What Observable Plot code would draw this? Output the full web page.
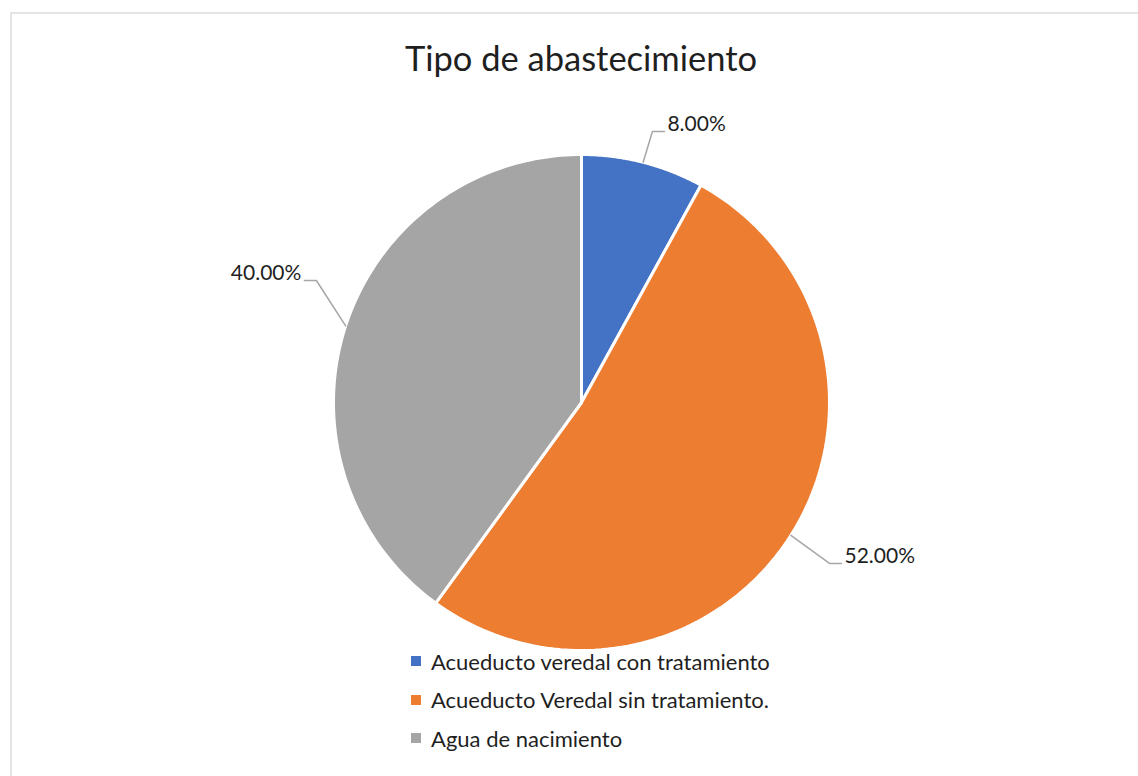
<!DOCTYPE html>
<html>
<head>
<meta charset="utf-8">
<script src="https://cdn.jsdelivr.net/npm/d3@7"></script>
<script src="https://cdn.jsdelivr.net/npm/@observablehq/plot@0.6"></script>
<style>
  html, body { margin: 0; padding: 0; background: #fff; }
  #wrap { position: relative; width: 1138px; height: 776px; overflow: hidden; background: #fff; font-family: Lato, "Noto Sans", sans-serif; }
  #frame { position: absolute; left: 10px; top: 12px; width: 1200px; height: 900px; border-left: 2px solid #e4e4e4; border-top: 2px solid #e4e4e4; box-sizing: border-box; }
  #title { position: absolute; left: 0; width: 1162px; top: 37px; text-align: center; font-size: 34.5px; color: #1f1f1f; line-height: 42px; }
  #chart { position: absolute; left: 0; top: 100px; }
  #legend { position: absolute; left: 411px; top: 642px; font-size: 22px; color: #1f1f1f; }
  .item { display: flex; align-items: center; height: 38.5px; }
  .sw { width: 10px; height: 10px; margin-right: 10px; flex: none; }
</style>
</head>
<body>
<div id="wrap">
  <div id="frame"></div>
  <div id="title"></div>
  <div id="chart"></div>
  <div id="legend"></div>
</div>
<script>
// ---- data ----
const title = "Tipo de abastecimiento";
const categories = ["Acueducto veredal con tratamiento", "Acueducto Veredal sin tratamiento.", "Agua de nacimiento"];
const values = [8, 52, 40];
const labels = ["8.00%", "52.00%", "40.00%"];
const colors = ["#4472C4", "#ED7D31", "#A5A5A5"];

// ---- layout (label elbows in radius units, y up) ----
const elbows = [[0.286, 1.093], [1.0, -0.649], [-1.069, 0.492]];
const tailSide = [1, 1, -1];

const cx = 581, cy = 402 - 100, R = 248;
const W = 1138, H = 560;

const arcs = d3.pie().sort(null).value(d => d)(values);

const slicePts = [];
arcs.forEach((a, i) => {
  slicePts.push({cat: categories[i], x: 0, y: 0});
  const n = 120;
  for (let k = 0; k <= n; k++) {
    const t = a.startAngle + (a.endAngle - a.startAngle) * k / n;
    slicePts.push({cat: categories[i], x: Math.sin(t), y: Math.cos(t)});
  }
  slicePts.push({cat: categories[i], x: 0, y: 0});
});

const tail = 12 / R;
const leaderPts = [];
const labelPts = [];
arcs.forEach((a, i) => {
  const m = (a.startAngle + a.endAngle) / 2;
  const [ex, ey] = elbows[i];
  leaderPts.push({k: i, x: Math.sin(m), y: Math.cos(m)});
  leaderPts.push({k: i, x: ex, y: ey});
  leaderPts.push({k: i, x: ex + tailSide[i] * tail, y: ey});
  labelPts.push({x: ex + tailSide[i] * (tail + 3 / R), y: ey, text: labels[i], anchor: tailSide[i] > 0 ? "start" : "end"});
});

const plot = Plot.plot({
  width: W, height: H,
  margin: 0,
  x: {domain: [-1, 1], range: [cx - R, cx + R], axis: null},
  y: {domain: [-1, 1], range: [cy + R, cy - R], axis: null},
  color: {domain: categories, range: colors},
  style: {background: "transparent", overflow: "visible"},
  marks: [
    Plot.line(slicePts, {x: "x", y: "y", z: "cat", fill: "cat", stroke: "#fff", strokeWidth: 3, strokeLinejoin: "round", curve: "linear"}),
    Plot.line(leaderPts, {x: "x", y: "y", z: "k", stroke: "#a6a6a6", strokeWidth: 1.5, curve: "linear"}),
    Plot.text(labelPts.filter(d => d.anchor === "start"), {x: "x", y: "y", text: "text", textAnchor: "start", dy: -7, fontSize: 21, fill: "#1f1f1f", fontFamily: "Lato"}),
    Plot.text(labelPts.filter(d => d.anchor === "end"), {x: "x", y: "y", text: "text", textAnchor: "end", dy: -7, fontSize: 21, fill: "#1f1f1f", fontFamily: "Lato"})
  ]
});
document.getElementById("chart").appendChild(plot);
document.getElementById("title").textContent = title;

const leg = document.getElementById("legend");
categories.forEach((c, i) => {
  const it = document.createElement("div");
  it.className = "item";
  const sw = document.createElement("span");
  sw.className = "sw";
  sw.style.background = colors[i];
  const tx = document.createElement("span");
  tx.textContent = c;
  it.appendChild(sw); it.appendChild(tx);
  leg.appendChild(it);
});
</script>
</body>
</html>
